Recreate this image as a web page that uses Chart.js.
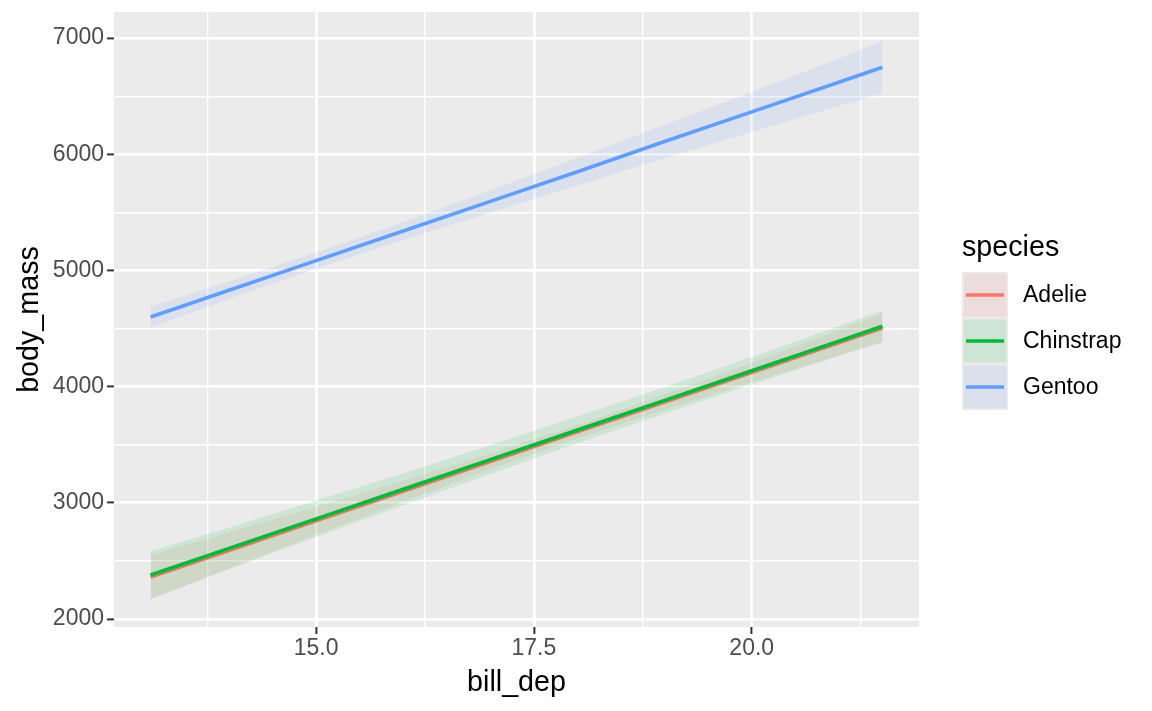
<!DOCTYPE html>
<html>
<head>
<meta charset="utf-8">
<script src="https://cdn.jsdelivr.net/npm/chart.js@4/dist/chart.umd.min.js"></script>
<style>
  html, body { margin: 0; padding: 0; background: #ffffff; }
  #wrap { width: 1152px; height: 711px; }
</style>
</head>
<body>
<div id="wrap"><canvas id="c" width="1152" height="711"></canvas></div>
<script>
// ---- data ----
const xValues = [13.1, 14, 15, 16, 17, 18, 19, 20, 21, 21.5];

const adelieFit   = [2360, 2590, 2845, 3100, 3356, 3611, 3867, 4122, 4378, 4505];
const adelieLower = [2170, 2435, 2725, 3010, 3288, 3553, 3802, 4038, 4268, 4381];
const adelieUpper = [2550, 2745, 2965, 3190, 3424, 3669, 3932, 4206, 4488, 4629];

const chinstrapFit   = [2378, 2608, 2862, 3117, 3372, 3627, 3882, 4137, 4392, 4520];
const chinstrapLower = [2173, 2428, 2705, 2979, 3248, 3512, 3769, 4019, 4263, 4384];
const chinstrapUpper = [2583, 2788, 3019, 3255, 3496, 3742, 3995, 4255, 4521, 4656];

const gentooFit   = [4600, 4830, 5085, 5340, 5595, 5850, 6110, 6365, 6620, 6750];
const gentooLower = [4510, 4755, 5015, 5262, 5500, 5732, 5965, 6193, 6415, 6525];
const gentooUpper = [4690, 4905, 5155, 5418, 5690, 5968, 6255, 6537, 6825, 6975];

const species = ['Adelie', 'Chinstrap', 'Gentoo'];
const xMajorTicks = [15.0, 17.5, 20.0];
const xMinorTicks = [13.75, 16.25, 18.75, 21.25];
const yMajorTicks = [2000, 3000, 4000, 5000, 6000, 7000];
const yMinorTicks = [2500, 3500, 4500, 5500, 6500];

// ---- styles ----
const colors = { Adelie: '#F8766D', Chinstrap: '#00BA38', Gentoo: '#619CFF' };
const ribbonAlpha = 0.12;
const FONT = '"Liberation Sans", Arial, Helvetica, sans-serif';
const PANEL_BG = '#EBEBEB';

function hexA(hex, a) {
  const n = parseInt(hex.slice(1), 16);
  return `rgba(${(n >> 16) & 255},${(n >> 8) & 255},${n & 255},${a})`;
}
const pts = ys => xValues.map((x, i) => ({ x: x, y: ys[i] }));

const groups = [
  { name: 'Adelie', fit: adelieFit, lo: adelieLower, hi: adelieUpper },
  { name: 'Chinstrap', fit: chinstrapFit, lo: chinstrapLower, hi: chinstrapUpper },
  { name: 'Gentoo', fit: gentooFit, lo: gentooLower, hi: gentooUpper }
];

const datasets = [];
let ord = 100;
groups.forEach(g => {
  datasets.push({ label: g.name + ' lower', data: pts(g.lo), borderWidth: 0, borderColor: 'rgba(0,0,0,0)',
                  pointRadius: 0, fill: false, order: ord--, tension: 0 });
  datasets.push({ label: g.name + ' upper', data: pts(g.hi), borderWidth: 0, borderColor: 'rgba(0,0,0,0)',
                  backgroundColor: hexA(colors[g.name], ribbonAlpha),
                  pointRadius: 0, fill: '-1', order: ord--, tension: 0 });
  datasets.push({ label: g.name, data: pts(g.fit), borderWidth: 3.6, borderColor: colors[g.name],
                  pointRadius: 0, fill: false, order: ord--, tension: 0, borderCapStyle: 'butt' });
});

const isIn = (arr, v) => arr.some(a => Math.abs(a - v) < 1e-6);

const panelBg = {
  id: 'panelBg',
  beforeDraw(chart) {
    const { ctx, chartArea: a } = chart;
    ctx.save();
    ctx.fillStyle = PANEL_BG;
    ctx.fillRect(a.left, a.top, a.right - a.left, a.bottom - a.top);
    ctx.restore();
  }
};

const legendPlugin = {
  id: 'ggLegend',
  afterDraw(chart) {
    const ctx = chart.ctx;
    ctx.save();
    ctx.fillStyle = '#000';
    ctx.font = `28.7px ${FONT}`;
    ctx.textBaseline = 'alphabetic';
    ctx.textAlign = 'left';
    ctx.fillText('species', 962, 256);
    const keyX = 962, keyTop = 272, keyW = 46, keyH = 46;
    species.forEach((s, i) => {
      const y = keyTop + i * keyH;
      ctx.fillStyle = PANEL_BG;
      ctx.fillRect(keyX, y, keyW, keyH);
      ctx.fillStyle = hexA(colors[s], ribbonAlpha);
      ctx.fillRect(keyX + 1.5, y + 1.5, keyW - 3, keyH - 3);
      ctx.strokeStyle = colors[s];
      ctx.lineWidth = 3.4;
      ctx.beginPath();
      ctx.moveTo(keyX + 4, y + keyH / 2);
      ctx.lineTo(keyX + keyW - 4, y + keyH / 2);
      ctx.stroke();
      ctx.fillStyle = '#000';
      ctx.font = `23px ${FONT}`;
      ctx.textBaseline = 'middle';
      ctx.fillText(s, 1023, y + keyH / 2 + 1);
    });
    ctx.restore();
  }
};

new Chart(document.getElementById('c'), {
  type: 'line',
  data: { datasets: datasets },
  plugins: [panelBg, legendPlugin],
  options: {
    responsive: false,
    animation: false,
    devicePixelRatio: 1,
    layout: { padding: { top: 12, right: 233, left: 0, bottom: 0 } },
    plugins: { legend: { display: false }, tooltip: { enabled: false }, filler: { propagate: false } },
    scales: {
      x: {
        type: 'linear', min: 12.68, max: 21.92,
        afterBuildTicks: s => { s.ticks = [...xMinorTicks, ...xMajorTicks].sort((a, b) => a - b).map(v => ({ value: v })); },
        afterFit: s => { s.height = 84; s.paddingLeft = 0; s.paddingRight = 0; },
        border: { display: false },
        grid: {
          color: '#FFFFFF',
          lineWidth: c => isIn(xMajorTicks, c.tick.value) ? 2.8 : 1.4,
          tickColor: c => isIn(xMajorTicks, c.tick.value) ? '#333333' : 'rgba(0,0,0,0)',
          tickLength: 7, tickWidth: 2, drawTicks: true
        },
        ticks: {
          autoSkip: false, maxRotation: 0, padding: 1, color: '#4D4D4D',
          font: { size: 23, family: FONT },
          callback: v => isIn(xMajorTicks, v) ? Number(v).toFixed(1) : ''
        },
        title: { display: true, text: 'bill_dep', color: '#000', font: { size: 28.7, family: FONT }, padding: { top: 0, bottom: 11 } }
      },
      y: {
        type: 'linear', min: 1931, max: 7225,
        afterBuildTicks: s => { s.ticks = [...yMinorTicks, ...yMajorTicks].sort((a, b) => a - b).map(v => ({ value: v })); },
        afterFit: s => { s.width = 114; s.paddingTop = 0; s.paddingBottom = 0; },
        border: { display: false },
        grid: {
          color: '#FFFFFF',
          lineWidth: c => isIn(yMajorTicks, c.tick.value) ? 2.8 : 1.4,
          tickColor: c => isIn(yMajorTicks, c.tick.value) ? '#333333' : 'rgba(0,0,0,0)',
          tickLength: 7, tickWidth: 2, drawTicks: true
        },
        ticks: {
          autoSkip: false, padding: 3, color: '#4D4D4D',
          font: { size: 23, family: FONT },
          callback: v => isIn(yMajorTicks, v) ? String(v) : ''
        },
        title: { display: true, text: 'body_mass', color: '#000', font: { size: 28.7, family: FONT }, padding: { top: 13, bottom: 0 } }
      }
    }
  }
});
</script>
</body>
</html>
